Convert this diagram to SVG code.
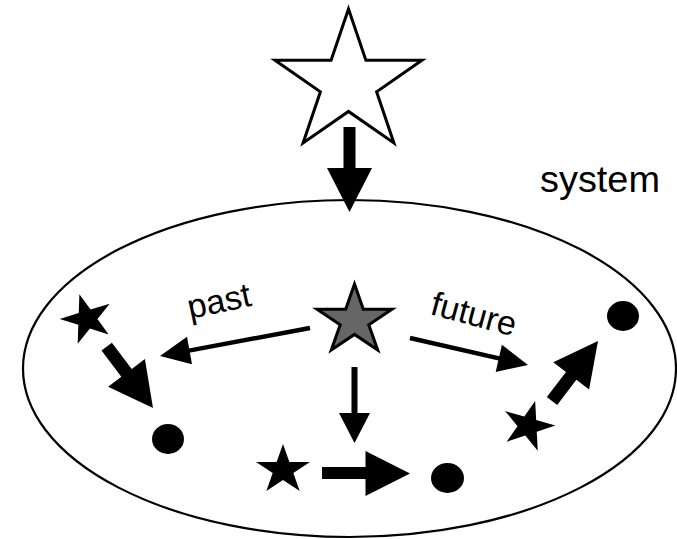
<svg xmlns="http://www.w3.org/2000/svg" xmlns:xlink="http://www.w3.org/1999/xlink" width="677" height="539" viewBox="0 0 677 539">
<defs>
<style>
.lbl{font-family:"Liberation Sans",Arial,sans-serif;font-size:34px;fill:#000}
.blk{fill:#000;stroke:none}
.thin{stroke:#000;stroke-width:4.5;fill:none}
</style>
<path id="star" d="M0,-1 L0.2245,-0.309 L0.9511,-0.309 L0.3633,0.118 L0.5878,0.809 L0,0.382 L-0.5878,0.809 L-0.3633,0.118 L-0.9511,-0.309 L-0.2245,-0.309 Z"/>
</defs>
<rect width="677" height="539" fill="#fff"/>
<g id="system">
<ellipse cx="349.5" cy="368.5" rx="326.5" ry="168.5" fill="none" stroke="#000" stroke-width="2.2"/>
<text class="lbl" x="540" y="192" font-size="36" textLength="120" lengthAdjust="spacingAndGlyphs" style="font-size:36px">system</text>
</g>
<g id="outside-star">
<polygon points="348.5,9 365.9,60.2 422,60.2 376.6,91.8 393.9,143 348.5,111.4 303.1,143 320.4,91.8 275,60.2 331.1,60.2" fill="#fff" stroke="#000" stroke-width="3" stroke-linejoin="miter"/>
</g>
<g id="present-star">
<polygon points="354.5,284 363.3,309.2 392,309.2 368.8,324.8 377.7,350 354.5,334.4 331.3,350 340.2,324.8 317,309.2 345.7,309.2" fill="#666" stroke="#000" stroke-width="3"/>
</g>
<g id="left-star"><use xlink:href="#star" href="#star" class="blk" transform="translate(87,319) rotate(-17) scale(27.5,26)"/></g>
<g id="left-dot"><ellipse cx="168" cy="439" rx="16" ry="15" class="blk"/></g>
<g id="bottom-star"><use xlink:href="#star" href="#star" class="blk" transform="translate(283,470) scale(28.4,26)"/></g>
<g id="bottom-dot"><ellipse cx="447.5" cy="478" rx="16.5" ry="15" class="blk"/></g>
<g id="right-star"><use xlink:href="#star" href="#star" class="blk" transform="translate(528,426) rotate(16) scale(27.5,26)"/></g>
<g id="right-dot"><ellipse cx="623" cy="316" rx="16" ry="15" class="blk"/></g>
<g id="connectors">
<rect x="343.5" y="127" width="12" height="42" class="blk"/>
<polygon points="327,168 372,168 349.5,212" class="blk"/>
<line x1="310" y1="328" x2="189" y2="350.6" class="thin"/>
<polygon points="160,356 187,336.7 192,364.3" class="blk"/>
<line x1="410" y1="338" x2="500" y2="358.6" class="thin"/>
<polygon points="528,365 501.9,344.7 495.7,371.9" class="blk"/>
<rect x="351.5" y="367" width="6" height="47" class="blk"/>
<polygon points="339,413 370,413 354.5,443" class="blk"/>
<polygon points="111.9,342.8 131.7,369 144.9,359 153,408 108.1,386.8 121.3,376.8 101.5,350.6" class="blk"/>
<polygon points="322,467 365.5,467 365.5,451 410,473.5 365.5,496 365.5,479 322,479" class="blk"/>
<polygon points="546.8,397.1 566,371.9 553.3,362.2 598,341 589.1,389.6 576.4,379.8 557.2,405" class="blk"/>
</g>
<g id="labels">
<text class="lbl" transform="translate(190,319) rotate(-12)">past</text>
<text class="lbl" transform="translate(429,314) rotate(15)">future</text>
</g>
</svg>
